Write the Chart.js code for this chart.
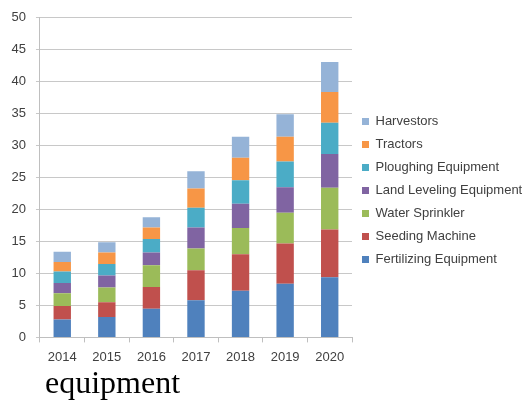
<!DOCTYPE html>
<html>
<head>
<meta charset="utf-8">
<script src="https://cdn.jsdelivr.net/npm/chart.js@4/dist/chart.umd.min.js"></script>
<style>
  body { margin: 0; background: #fff; }
  #wrap { position: relative; width: 526px; height: 406px; overflow: hidden; }
  #c { position: absolute; left: 0; top: 0; }
  #caption { position: absolute; left: 45px; top: 366px; font-family: "Liberation Serif", "Times New Roman", serif; font-size: 32px; color: #000; line-height: 1; }
</style>
</head>
<body>
<div id="wrap">
  <canvas id="c" width="526" height="374"></canvas>
  <div id="caption">equipment</div>
</div>
<script>
// years on the x axis
var years = ['2014', '2015', '2016', '2017', '2018', '2019', '2020'];

// segment values (bottom to top)
var fertilizing = [2.8, 3.2, 4.5, 5.8, 7.3, 8.4, 9.4];
var seeding     = [2.1, 2.3, 3.4, 4.7, 5.7, 6.3, 7.5];
var sprinkler   = [2.0, 2.3, 3.4, 3.4, 4.1, 4.8, 6.5];
var leveling    = [1.6, 1.9, 2.0, 3.3, 3.8, 4.0, 5.3];
var ploughing   = [1.8, 1.8, 2.1, 3.1, 3.7, 4.0, 4.9];
var tractors    = [1.5, 1.8, 1.8, 3.0, 3.5, 3.9, 4.8];
var harvestors  = [1.6, 1.6, 1.6, 2.7, 3.3, 3.5, 4.7];

function ds(label, data, color) {
    return {
        label: label,
        data: data,
        backgroundColor: color,
        borderWidth: 0,
        barPercentage: 0.39,
        categoryPercentage: 1.0
    };
}

var ctx = document.getElementById('c');

var myChart = new Chart(ctx, {
    type: 'bar',
    data: {
        labels: years,
        datasets: [
            ds('Fertilizing Equipment', fertilizing, '#4F81BD'),
            ds('Seeding Machine', seeding, '#C0504D'),
            ds('Water Sprinkler', sprinkler, '#9BBB59'),
            ds('Land Leveling Equipment', leveling, '#8064A2'),
            ds('Ploughing Equipment', ploughing, '#4BACC6'),
            ds('Tractors', tractors, '#F79646'),
            ds('Harvestors', harvestors, '#95B3D7')
        ]
    },
    options: {
        responsive: false,
        animation: false,
        layout: { padding: { left: 1.5, top: 9, bottom: 2, right: 0 } },
        plugins: {
            tooltip: { enabled: false },
            legend: {
                position: 'right',
                reverse: true,
                maxWidth: 174,
                labels: {
                    boxWidth: 7,
                    boxHeight: 7,
                    padding: 10,
                    color: '#404040',
                    font: { family: 'Liberation Sans', size: 13 }
                }
            }
        },
        scales: {
            x: {
                stacked: true,
                grid: {
                    display: true,
                    offset: true,
                    drawOnChartArea: false,
                    tickLength: 5,
                    color: '#bfbfbf'
                },
                border: { color: '#bfbfbf' },
                ticks: {
                    padding: 7,
                    color: '#404040',
                    font: { family: 'Liberation Sans', size: 13 }
                }
            },
            y: {
                stacked: true,
                min: 0,
                max: 50,
                ticks: {
                    stepSize: 5,
                    padding: 10,
                    color: '#404040',
                    font: { family: 'Liberation Sans', size: 13 }
                },
                grid: { color: '#c8c8c8', tickLength: 4 },
                border: { color: '#bfbfbf' }
            }
        }
    }
});
</script>
</body>
</html>
